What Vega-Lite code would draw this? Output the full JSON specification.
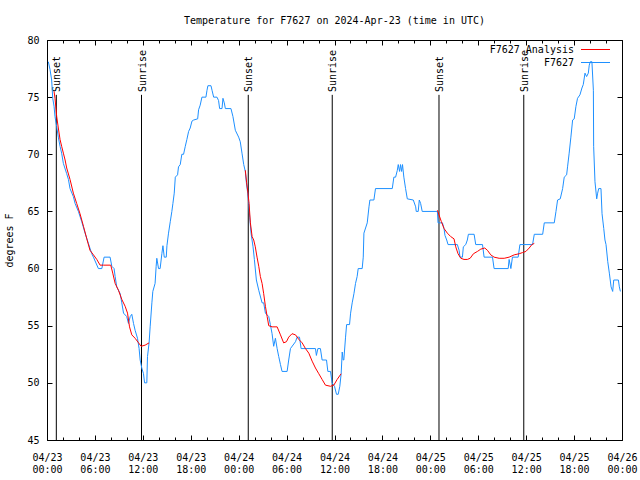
{
  "$schema": "https://vega.github.io/schema/vega-lite/v6.json",
  "autosize": {"type": "none"},
  "width": 575,
  "height": 400,
  "padding": {"left": 47, "top": 40, "right": 18, "bottom": 40},
  "background": "white",
  "title": {"text": "Temperature for F7627 on 2024-Apr-23 (time in UTC)", "anchor": "middle", "baseline": "alphabetic", "offset": 1, "font": "DejaVu Sans Mono", "fontSize": 10, "fontWeight": "normal", "color": "black"},
  "datasets": {
    "events": [
      {"t": "2024-04-23T01:10Z", "label": "Sunset"},
      {"t": "2024-04-23T11:50Z", "label": "Sunrise"},
      {"t": "2024-04-24T01:12Z", "label": "Sunset"},
      {"t": "2024-04-24T11:43Z", "label": "Sunrise"},
      {"t": "2024-04-25T01:05Z", "label": "Sunset"},
      {"t": "2024-04-25T11:42Z", "label": "Sunrise"}
    ],
    "obs": [
      {"t": "2024-04-23T00:10Z", "temp": 78.1},
      {"t": "2024-04-23T00:23Z", "temp": 77.4},
      {"t": "2024-04-23T00:35Z", "temp": 76.5},
      {"t": "2024-04-23T00:43Z", "temp": 74.9},
      {"t": "2024-04-23T00:53Z", "temp": 74.2},
      {"t": "2024-04-23T01:00Z", "temp": 73.3},
      {"t": "2024-04-23T01:13Z", "temp": 72.4},
      {"t": "2024-04-23T01:25Z", "temp": 71.5},
      {"t": "2024-04-23T01:38Z", "temp": 70.7},
      {"t": "2024-04-23T01:50Z", "temp": 70.1},
      {"t": "2024-04-23T02:03Z", "temp": 69.2},
      {"t": "2024-04-23T02:28Z", "temp": 68.3},
      {"t": "2024-04-23T02:41Z", "temp": 67.8},
      {"t": "2024-04-23T02:53Z", "temp": 67.0},
      {"t": "2024-04-23T03:18Z", "temp": 66.3},
      {"t": "2024-04-23T03:31Z", "temp": 65.7},
      {"t": "2024-04-23T03:56Z", "temp": 65.0},
      {"t": "2024-04-23T04:21Z", "temp": 64.1},
      {"t": "2024-04-23T04:46Z", "temp": 63.1},
      {"t": "2024-04-23T05:11Z", "temp": 62.2},
      {"t": "2024-04-23T05:36Z", "temp": 61.3},
      {"t": "2024-04-23T05:49Z", "temp": 61.0},
      {"t": "2024-04-23T06:26Z", "temp": 60.0},
      {"t": "2024-04-23T06:52Z", "temp": 60.0},
      {"t": "2024-04-23T07:09Z", "temp": 61.0},
      {"t": "2024-04-23T07:54Z", "temp": 61.0},
      {"t": "2024-04-23T08:07Z", "temp": 60.2},
      {"t": "2024-04-23T08:24Z", "temp": 60.0},
      {"t": "2024-04-23T08:32Z", "temp": 59.3},
      {"t": "2024-04-23T08:44Z", "temp": 58.4},
      {"t": "2024-04-23T09:10Z", "temp": 57.8},
      {"t": "2024-04-23T09:22Z", "temp": 57.0},
      {"t": "2024-04-23T09:35Z", "temp": 56.1},
      {"t": "2024-04-23T09:59Z", "temp": 55.8},
      {"t": "2024-04-23T10:12Z", "temp": 55.2},
      {"t": "2024-04-23T10:25Z", "temp": 55.8},
      {"t": "2024-04-23T10:37Z", "temp": 56.0},
      {"t": "2024-04-23T10:50Z", "temp": 55.2},
      {"t": "2024-04-23T11:02Z", "temp": 54.6},
      {"t": "2024-04-23T11:20Z", "temp": 53.9},
      {"t": "2024-04-23T11:32Z", "temp": 53.0},
      {"t": "2024-04-23T11:40Z", "temp": 52.0},
      {"t": "2024-04-23T11:52Z", "temp": 51.3},
      {"t": "2024-04-23T12:05Z", "temp": 50.8},
      {"t": "2024-04-23T12:13Z", "temp": 50.0},
      {"t": "2024-04-23T12:30Z", "temp": 50.0},
      {"t": "2024-04-23T12:35Z", "temp": 52.3},
      {"t": "2024-04-23T12:47Z", "temp": 53.5},
      {"t": "2024-04-23T12:55Z", "temp": 54.9},
      {"t": "2024-04-23T13:08Z", "temp": 57.0},
      {"t": "2024-04-23T13:15Z", "temp": 58.0},
      {"t": "2024-04-23T13:32Z", "temp": 58.7},
      {"t": "2024-04-23T13:40Z", "temp": 60.2},
      {"t": "2024-04-23T13:45Z", "temp": 60.9},
      {"t": "2024-04-23T13:58Z", "temp": 60.0},
      {"t": "2024-04-23T14:10Z", "temp": 60.0},
      {"t": "2024-04-23T14:23Z", "temp": 61.3},
      {"t": "2024-04-23T14:31Z", "temp": 62.0},
      {"t": "2024-04-23T14:41Z", "temp": 61.0},
      {"t": "2024-04-23T14:56Z", "temp": 61.0},
      {"t": "2024-04-23T15:01Z", "temp": 62.0},
      {"t": "2024-04-23T15:13Z", "temp": 63.1},
      {"t": "2024-04-23T15:26Z", "temp": 64.1},
      {"t": "2024-04-23T15:38Z", "temp": 65.0},
      {"t": "2024-04-23T15:46Z", "temp": 65.7},
      {"t": "2024-04-23T15:56Z", "temp": 66.6},
      {"t": "2024-04-23T16:04Z", "temp": 68.0},
      {"t": "2024-04-23T16:21Z", "temp": 68.2},
      {"t": "2024-04-23T16:28Z", "temp": 68.9},
      {"t": "2024-04-23T16:41Z", "temp": 69.1},
      {"t": "2024-04-23T16:53Z", "temp": 70.0},
      {"t": "2024-04-23T17:06Z", "temp": 70.0},
      {"t": "2024-04-23T17:19Z", "temp": 70.7},
      {"t": "2024-04-23T17:31Z", "temp": 71.3},
      {"t": "2024-04-23T17:44Z", "temp": 72.0},
      {"t": "2024-04-23T17:56Z", "temp": 72.3},
      {"t": "2024-04-23T18:09Z", "temp": 72.9},
      {"t": "2024-04-23T18:22Z", "temp": 73.0},
      {"t": "2024-04-23T18:52Z", "temp": 73.1},
      {"t": "2024-04-23T18:59Z", "temp": 73.9},
      {"t": "2024-04-23T19:11Z", "temp": 74.3},
      {"t": "2024-04-23T19:24Z", "temp": 75.0},
      {"t": "2024-04-23T19:54Z", "temp": 75.0},
      {"t": "2024-04-23T20:02Z", "temp": 75.6},
      {"t": "2024-04-23T20:09Z", "temp": 76.0},
      {"t": "2024-04-23T20:32Z", "temp": 76.0},
      {"t": "2024-04-23T20:40Z", "temp": 75.6},
      {"t": "2024-04-23T20:52Z", "temp": 75.0},
      {"t": "2024-04-23T21:17Z", "temp": 75.0},
      {"t": "2024-04-23T21:29Z", "temp": 74.7},
      {"t": "2024-04-23T21:37Z", "temp": 74.0},
      {"t": "2024-04-23T21:55Z", "temp": 74.0},
      {"t": "2024-04-23T22:02Z", "temp": 74.9},
      {"t": "2024-04-23T22:12Z", "temp": 74.5},
      {"t": "2024-04-23T22:20Z", "temp": 74.0},
      {"t": "2024-04-23T23:02Z", "temp": 74.0},
      {"t": "2024-04-23T23:17Z", "temp": 73.3},
      {"t": "2024-04-23T23:35Z", "temp": 72.1},
      {"t": "2024-04-24T00:00Z", "temp": 71.5},
      {"t": "2024-04-24T00:12Z", "temp": 71.1},
      {"t": "2024-04-24T00:25Z", "temp": 70.1},
      {"t": "2024-04-24T00:38Z", "temp": 69.1},
      {"t": "2024-04-24T00:50Z", "temp": 68.5},
      {"t": "2024-04-24T00:58Z", "temp": 67.5},
      {"t": "2024-04-24T01:08Z", "temp": 66.6},
      {"t": "2024-04-24T01:16Z", "temp": 65.6},
      {"t": "2024-04-24T01:23Z", "temp": 64.5},
      {"t": "2024-04-24T01:33Z", "temp": 63.1},
      {"t": "2024-04-24T01:48Z", "temp": 61.9},
      {"t": "2024-04-24T01:58Z", "temp": 60.8},
      {"t": "2024-04-24T02:13Z", "temp": 59.0},
      {"t": "2024-04-24T02:31Z", "temp": 58.1},
      {"t": "2024-04-24T02:56Z", "temp": 57.0},
      {"t": "2024-04-24T03:08Z", "temp": 57.0},
      {"t": "2024-04-24T03:21Z", "temp": 56.1},
      {"t": "2024-04-24T03:46Z", "temp": 55.8},
      {"t": "2024-04-24T03:58Z", "temp": 55.1},
      {"t": "2024-04-24T04:11Z", "temp": 54.3},
      {"t": "2024-04-24T04:23Z", "temp": 53.2},
      {"t": "2024-04-24T04:36Z", "temp": 53.9},
      {"t": "2024-04-24T04:49Z", "temp": 53.0},
      {"t": "2024-04-24T05:01Z", "temp": 52.3},
      {"t": "2024-04-24T05:14Z", "temp": 51.6},
      {"t": "2024-04-24T05:26Z", "temp": 51.0},
      {"t": "2024-04-24T06:04Z", "temp": 51.0},
      {"t": "2024-04-24T06:16Z", "temp": 52.0},
      {"t": "2024-04-24T06:29Z", "temp": 53.0},
      {"t": "2024-04-24T07:07Z", "temp": 53.6},
      {"t": "2024-04-24T07:19Z", "temp": 54.0},
      {"t": "2024-04-24T07:37Z", "temp": 54.0},
      {"t": "2024-04-24T07:49Z", "temp": 53.0},
      {"t": "2024-04-24T09:37Z", "temp": 53.0},
      {"t": "2024-04-24T09:44Z", "temp": 52.4},
      {"t": "2024-04-24T09:55Z", "temp": 53.0},
      {"t": "2024-04-24T10:14Z", "temp": 53.0},
      {"t": "2024-04-24T10:27Z", "temp": 52.0},
      {"t": "2024-04-24T11:00Z", "temp": 52.0},
      {"t": "2024-04-24T11:10Z", "temp": 51.0},
      {"t": "2024-04-24T11:30Z", "temp": 51.0},
      {"t": "2024-04-24T11:42Z", "temp": 50.0},
      {"t": "2024-04-24T12:00Z", "temp": 49.7},
      {"t": "2024-04-24T12:15Z", "temp": 49.0},
      {"t": "2024-04-24T12:28Z", "temp": 49.0},
      {"t": "2024-04-24T12:40Z", "temp": 49.7},
      {"t": "2024-04-24T12:50Z", "temp": 50.8},
      {"t": "2024-04-24T12:58Z", "temp": 52.7},
      {"t": "2024-04-24T13:05Z", "temp": 52.0},
      {"t": "2024-04-24T13:10Z", "temp": 52.0},
      {"t": "2024-04-24T13:23Z", "temp": 54.0},
      {"t": "2024-04-24T13:31Z", "temp": 55.1},
      {"t": "2024-04-24T13:53Z", "temp": 55.1},
      {"t": "2024-04-24T14:01Z", "temp": 56.1},
      {"t": "2024-04-24T14:13Z", "temp": 57.0},
      {"t": "2024-04-24T14:26Z", "temp": 57.8},
      {"t": "2024-04-24T14:38Z", "temp": 58.7},
      {"t": "2024-04-24T14:50Z", "temp": 59.3},
      {"t": "2024-04-24T14:58Z", "temp": 60.0},
      {"t": "2024-04-24T15:28Z", "temp": 60.0},
      {"t": "2024-04-24T15:36Z", "temp": 61.0},
      {"t": "2024-04-24T15:41Z", "temp": 63.1},
      {"t": "2024-04-24T16:06Z", "temp": 64.0},
      {"t": "2024-04-24T16:19Z", "temp": 65.4},
      {"t": "2024-04-24T16:26Z", "temp": 66.0},
      {"t": "2024-04-24T16:56Z", "temp": 66.0},
      {"t": "2024-04-24T17:08Z", "temp": 67.0},
      {"t": "2024-04-24T19:14Z", "temp": 67.0},
      {"t": "2024-04-24T19:26Z", "temp": 68.0},
      {"t": "2024-04-24T19:39Z", "temp": 68.0},
      {"t": "2024-04-24T19:52Z", "temp": 68.6},
      {"t": "2024-04-24T19:59Z", "temp": 69.1},
      {"t": "2024-04-24T20:09Z", "temp": 68.5},
      {"t": "2024-04-24T20:16Z", "temp": 69.1},
      {"t": "2024-04-24T20:24Z", "temp": 68.5},
      {"t": "2024-04-24T20:31Z", "temp": 69.1},
      {"t": "2024-04-24T20:41Z", "temp": 68.0},
      {"t": "2024-04-24T20:54Z", "temp": 67.0},
      {"t": "2024-04-24T21:07Z", "temp": 66.1},
      {"t": "2024-04-24T21:52Z", "temp": 66.0},
      {"t": "2024-04-24T22:10Z", "temp": 65.4},
      {"t": "2024-04-24T22:14Z", "temp": 65.0},
      {"t": "2024-04-24T22:29Z", "temp": 65.0},
      {"t": "2024-04-24T22:37Z", "temp": 66.0},
      {"t": "2024-04-24T22:47Z", "temp": 65.7},
      {"t": "2024-04-24T22:59Z", "temp": 65.0},
      {"t": "2024-04-25T00:53Z", "temp": 65.0},
      {"t": "2024-04-25T00:58Z", "temp": 64.0},
      {"t": "2024-04-25T01:31Z", "temp": 64.0},
      {"t": "2024-04-25T01:43Z", "temp": 63.5},
      {"t": "2024-04-25T01:50Z", "temp": 62.9},
      {"t": "2024-04-25T02:03Z", "temp": 62.5},
      {"t": "2024-04-25T02:13Z", "temp": 62.1},
      {"t": "2024-04-25T03:23Z", "temp": 62.1},
      {"t": "2024-04-25T03:36Z", "temp": 61.6},
      {"t": "2024-04-25T03:43Z", "temp": 61.0},
      {"t": "2024-04-25T04:01Z", "temp": 61.0},
      {"t": "2024-04-25T04:08Z", "temp": 61.9},
      {"t": "2024-04-25T04:26Z", "temp": 62.1},
      {"t": "2024-04-25T04:38Z", "temp": 62.5},
      {"t": "2024-04-25T04:46Z", "temp": 63.0},
      {"t": "2024-04-25T05:29Z", "temp": 63.0},
      {"t": "2024-04-25T05:41Z", "temp": 62.1},
      {"t": "2024-04-25T06:32Z", "temp": 62.1},
      {"t": "2024-04-25T06:44Z", "temp": 61.0},
      {"t": "2024-04-25T07:47Z", "temp": 61.0},
      {"t": "2024-04-25T07:59Z", "temp": 60.0},
      {"t": "2024-04-25T09:45Z", "temp": 60.0},
      {"t": "2024-04-25T09:52Z", "temp": 60.8},
      {"t": "2024-04-25T10:05Z", "temp": 60.0},
      {"t": "2024-04-25T10:17Z", "temp": 61.0},
      {"t": "2024-04-25T11:00Z", "temp": 61.0},
      {"t": "2024-04-25T11:13Z", "temp": 62.1},
      {"t": "2024-04-25T12:48Z", "temp": 62.1},
      {"t": "2024-04-25T13:01Z", "temp": 63.0},
      {"t": "2024-04-25T14:04Z", "temp": 63.0},
      {"t": "2024-04-25T14:16Z", "temp": 64.0},
      {"t": "2024-04-25T15:31Z", "temp": 64.0},
      {"t": "2024-04-25T15:44Z", "temp": 65.0},
      {"t": "2024-04-25T15:56Z", "temp": 66.0},
      {"t": "2024-04-25T16:16Z", "temp": 66.1},
      {"t": "2024-04-25T16:34Z", "temp": 67.0},
      {"t": "2024-04-25T16:46Z", "temp": 68.0},
      {"t": "2024-04-25T17:04Z", "temp": 68.2},
      {"t": "2024-04-25T17:11Z", "temp": 68.9},
      {"t": "2024-04-25T17:23Z", "temp": 70.1},
      {"t": "2024-04-25T17:36Z", "temp": 71.5},
      {"t": "2024-04-25T17:49Z", "temp": 73.0},
      {"t": "2024-04-25T18:01Z", "temp": 73.1},
      {"t": "2024-04-25T18:14Z", "temp": 74.2},
      {"t": "2024-04-25T18:26Z", "temp": 74.9},
      {"t": "2024-04-25T18:44Z", "temp": 75.2},
      {"t": "2024-04-25T18:59Z", "temp": 75.8},
      {"t": "2024-04-25T19:09Z", "temp": 76.1},
      {"t": "2024-04-25T19:22Z", "temp": 77.1},
      {"t": "2024-04-25T19:34Z", "temp": 76.8},
      {"t": "2024-04-25T19:47Z", "temp": 77.1},
      {"t": "2024-04-25T19:54Z", "temp": 77.8},
      {"t": "2024-04-25T20:02Z", "temp": 78.1},
      {"t": "2024-04-25T20:14Z", "temp": 78.1},
      {"t": "2024-04-25T20:25Z", "temp": 75.6},
      {"t": "2024-04-25T20:27Z", "temp": 70.7},
      {"t": "2024-04-25T20:37Z", "temp": 67.6},
      {"t": "2024-04-25T20:50Z", "temp": 66.1},
      {"t": "2024-04-25T20:57Z", "temp": 66.6},
      {"t": "2024-04-25T21:05Z", "temp": 67.0},
      {"t": "2024-04-25T21:22Z", "temp": 67.0},
      {"t": "2024-04-25T21:30Z", "temp": 64.8},
      {"t": "2024-04-25T21:43Z", "temp": 63.5},
      {"t": "2024-04-25T21:52Z", "temp": 62.5},
      {"t": "2024-04-25T22:00Z", "temp": 62.1},
      {"t": "2024-04-25T22:13Z", "temp": 60.6},
      {"t": "2024-04-25T22:25Z", "temp": 59.6},
      {"t": "2024-04-25T22:38Z", "temp": 58.4},
      {"t": "2024-04-25T22:50Z", "temp": 58.0},
      {"t": "2024-04-25T22:58Z", "temp": 59.0},
      {"t": "2024-04-25T23:33Z", "temp": 59.0},
      {"t": "2024-04-25T23:40Z", "temp": 58.4},
      {"t": "2024-04-25T23:48Z", "temp": 58.0}
    ],
    "analysis": [
      {"seg": 1, "t": "2024-04-23T00:53Z", "temp": 75.5},
      {"seg": 1, "t": "2024-04-23T01:00Z", "temp": 74.9},
      {"seg": 1, "t": "2024-04-23T01:13Z", "temp": 73.3},
      {"seg": 1, "t": "2024-04-23T01:25Z", "temp": 72.3},
      {"seg": 1, "t": "2024-04-23T01:38Z", "temp": 71.3},
      {"seg": 1, "t": "2024-04-23T01:50Z", "temp": 70.7},
      {"seg": 1, "t": "2024-04-23T02:03Z", "temp": 70.1},
      {"seg": 1, "t": "2024-04-23T02:16Z", "temp": 69.5},
      {"seg": 1, "t": "2024-04-23T02:28Z", "temp": 68.8},
      {"seg": 1, "t": "2024-04-23T02:53Z", "temp": 67.8},
      {"seg": 1, "t": "2024-04-23T03:18Z", "temp": 66.6},
      {"seg": 1, "t": "2024-04-23T03:43Z", "temp": 65.7},
      {"seg": 1, "t": "2024-04-23T04:08Z", "temp": 64.8},
      {"seg": 1, "t": "2024-04-23T04:34Z", "temp": 63.7},
      {"seg": 1, "t": "2024-04-23T04:59Z", "temp": 62.6},
      {"seg": 1, "t": "2024-04-23T05:23Z", "temp": 61.6},
      {"seg": 1, "t": "2024-04-23T05:49Z", "temp": 61.2},
      {"seg": 1, "t": "2024-04-23T06:14Z", "temp": 60.8},
      {"seg": 1, "t": "2024-04-23T06:39Z", "temp": 60.3},
      {"seg": 1, "t": "2024-04-23T07:04Z", "temp": 60.3},
      {"seg": 1, "t": "2024-04-23T07:59Z", "temp": 60.3},
      {"seg": 1, "t": "2024-04-23T08:14Z", "temp": 59.6},
      {"seg": 1, "t": "2024-04-23T08:32Z", "temp": 58.7},
      {"seg": 1, "t": "2024-04-23T08:57Z", "temp": 58.1},
      {"seg": 1, "t": "2024-04-23T09:22Z", "temp": 57.3},
      {"seg": 1, "t": "2024-04-23T09:47Z", "temp": 56.7},
      {"seg": 1, "t": "2024-04-23T10:05Z", "temp": 56.1},
      {"seg": 1, "t": "2024-04-23T10:20Z", "temp": 54.9},
      {"seg": 1, "t": "2024-04-23T10:37Z", "temp": 54.2},
      {"seg": 1, "t": "2024-04-23T11:02Z", "temp": 53.9},
      {"seg": 1, "t": "2024-04-23T11:28Z", "temp": 53.5},
      {"seg": 1, "t": "2024-04-23T11:47Z", "temp": 53.2},
      {"seg": 1, "t": "2024-04-23T12:17Z", "temp": 53.3},
      {"seg": 1, "t": "2024-04-23T12:47Z", "temp": 53.5},
      {"seg": 2, "t": "2024-04-24T00:50Z", "temp": 68.6},
      {"seg": 2, "t": "2024-04-24T01:00Z", "temp": 67.5},
      {"seg": 2, "t": "2024-04-24T01:10Z", "temp": 66.6},
      {"seg": 2, "t": "2024-04-24T01:18Z", "temp": 65.7},
      {"seg": 2, "t": "2024-04-24T01:28Z", "temp": 64.0},
      {"seg": 2, "t": "2024-04-24T01:41Z", "temp": 62.8},
      {"seg": 2, "t": "2024-04-24T01:53Z", "temp": 62.5},
      {"seg": 2, "t": "2024-04-24T02:05Z", "temp": 61.9},
      {"seg": 2, "t": "2024-04-24T02:18Z", "temp": 61.0},
      {"seg": 2, "t": "2024-04-24T02:31Z", "temp": 60.2},
      {"seg": 2, "t": "2024-04-24T02:43Z", "temp": 59.3},
      {"seg": 2, "t": "2024-04-24T02:56Z", "temp": 58.7},
      {"seg": 2, "t": "2024-04-24T03:08Z", "temp": 57.8},
      {"seg": 2, "t": "2024-04-24T03:21Z", "temp": 56.7},
      {"seg": 2, "t": "2024-04-24T03:34Z", "temp": 55.8},
      {"seg": 2, "t": "2024-04-24T03:46Z", "temp": 55.0},
      {"seg": 2, "t": "2024-04-24T04:11Z", "temp": 54.9},
      {"seg": 2, "t": "2024-04-24T04:49Z", "temp": 54.9},
      {"seg": 2, "t": "2024-04-24T05:14Z", "temp": 54.2},
      {"seg": 2, "t": "2024-04-24T05:38Z", "temp": 53.5},
      {"seg": 2, "t": "2024-04-24T05:59Z", "temp": 53.6},
      {"seg": 2, "t": "2024-04-24T06:16Z", "temp": 54.0},
      {"seg": 2, "t": "2024-04-24T06:41Z", "temp": 54.3},
      {"seg": 2, "t": "2024-04-24T07:07Z", "temp": 54.2},
      {"seg": 2, "t": "2024-04-24T07:32Z", "temp": 53.8},
      {"seg": 2, "t": "2024-04-24T07:57Z", "temp": 53.5},
      {"seg": 2, "t": "2024-04-24T08:22Z", "temp": 53.0},
      {"seg": 2, "t": "2024-04-24T08:47Z", "temp": 52.6},
      {"seg": 2, "t": "2024-04-24T09:12Z", "temp": 51.9},
      {"seg": 2, "t": "2024-04-24T09:37Z", "temp": 51.3},
      {"seg": 2, "t": "2024-04-24T10:02Z", "temp": 50.8},
      {"seg": 2, "t": "2024-04-24T10:27Z", "temp": 50.3},
      {"seg": 2, "t": "2024-04-24T10:52Z", "temp": 49.8},
      {"seg": 2, "t": "2024-04-24T11:30Z", "temp": 49.7},
      {"seg": 2, "t": "2024-04-24T11:55Z", "temp": 49.8},
      {"seg": 2, "t": "2024-04-24T12:20Z", "temp": 50.3},
      {"seg": 2, "t": "2024-04-24T12:50Z", "temp": 50.8},
      {"seg": 3, "t": "2024-04-25T00:53Z", "temp": 65.1},
      {"seg": 3, "t": "2024-04-25T01:05Z", "temp": 64.7},
      {"seg": 3, "t": "2024-04-25T01:23Z", "temp": 64.1},
      {"seg": 3, "t": "2024-04-25T01:43Z", "temp": 63.5},
      {"seg": 3, "t": "2024-04-25T02:08Z", "temp": 63.1},
      {"seg": 3, "t": "2024-04-25T02:33Z", "temp": 62.8},
      {"seg": 3, "t": "2024-04-25T02:58Z", "temp": 62.6},
      {"seg": 3, "t": "2024-04-25T03:11Z", "temp": 61.9},
      {"seg": 3, "t": "2024-04-25T03:28Z", "temp": 61.3},
      {"seg": 3, "t": "2024-04-25T03:49Z", "temp": 60.9},
      {"seg": 3, "t": "2024-04-25T04:13Z", "temp": 60.8},
      {"seg": 3, "t": "2024-04-25T04:38Z", "temp": 60.8},
      {"seg": 3, "t": "2024-04-25T04:59Z", "temp": 60.9},
      {"seg": 3, "t": "2024-04-25T05:24Z", "temp": 61.3},
      {"seg": 3, "t": "2024-04-25T05:54Z", "temp": 61.5},
      {"seg": 3, "t": "2024-04-25T06:19Z", "temp": 61.7},
      {"seg": 3, "t": "2024-04-25T06:49Z", "temp": 61.8},
      {"seg": 3, "t": "2024-04-25T07:09Z", "temp": 61.6},
      {"seg": 3, "t": "2024-04-25T07:34Z", "temp": 61.2},
      {"seg": 3, "t": "2024-04-25T07:59Z", "temp": 61.0},
      {"seg": 3, "t": "2024-04-25T08:37Z", "temp": 60.9},
      {"seg": 3, "t": "2024-04-25T09:15Z", "temp": 60.9},
      {"seg": 3, "t": "2024-04-25T09:52Z", "temp": 61.0},
      {"seg": 3, "t": "2024-04-25T10:30Z", "temp": 61.2},
      {"seg": 3, "t": "2024-04-25T11:08Z", "temp": 61.3},
      {"seg": 3, "t": "2024-04-25T11:33Z", "temp": 61.4},
      {"seg": 3, "t": "2024-04-25T11:58Z", "temp": 61.5},
      {"seg": 3, "t": "2024-04-25T12:23Z", "temp": 61.8},
      {"seg": 3, "t": "2024-04-25T12:43Z", "temp": 62.1},
      {"seg": 3, "t": "2024-04-25T13:01Z", "temp": 62.2}
    ]
  },
  "resolve": {"axis": {"x": "independent", "y": "independent"}},
  "layer": [
    {
      "data": {"name": "events"},
      "mark": {"type": "rule", "color": "black", "strokeWidth": 1},
      "encoding": {
        "x": {"field": "t", "type": "temporal",
              "scale": {"type": "utc", "domain": [1713830400000, 1714089600000], "nice": false},
              "axis": {"orient": "bottom", "title": null, "domain": false, "grid": false, "tickSize": -5, "labelPadding": 17, "labelBaseline": "top", "labelLineHeight": 12, "values": [1713830400000, 1713852000000, 1713873600000, 1713895200000, 1713916800000, 1713938400000, 1713960000000, 1713981600000, 1714003200000, 1714024800000, 1714046400000, 1714068000000, 1714089600000], "labelExpr": "[utcFormat(datum.value, '%m/%d'), utcFormat(datum.value, '%H:%M')]", "labelOverlap": false, "labelFlush": false}},
        "y": {"datum": 45, "type": "quantitative",
              "scale": {"domain": [45, 80], "nice": false, "zero": false},
              "axis": {"orient": "left", "title": "degrees F", "domain": false, "grid": false, "tickSize": -5, "labelPadding": 13, "values": [45, 50, 55, 60, 65, 70, 75, 80], "titlePadding": 12}},
        "y2": {"datum": 75.2}
      }
    },
    {
      "data": {"name": "events"},
      "mark": {"type": "text", "angle": 270, "align": "left", "baseline": "middle", "dy": 1, "font": "DejaVu Sans Mono", "fontSize": 10, "color": "black"},
      "encoding": {
        "x": {"field": "t", "type": "temporal",
              "axis": {"orient": "top", "title": null, "labels": false, "domain": false, "grid": false, "tickSize": -5, "values": [1713830400000, 1713852000000, 1713873600000, 1713895200000, 1713916800000, 1713938400000, 1713960000000, 1713981600000, 1714003200000, 1714024800000, 1714046400000, 1714068000000, 1714089600000]}},
        "y": {"datum": 75.45, "type": "quantitative",
              "axis": {"orient": "right", "title": null, "labels": false, "domain": false, "grid": false, "tickSize": -5, "values": [45, 50, 55, 60, 65, 70, 75, 80]}},
        "text": {"field": "label"}
      }
    },
    {
      "data": {"name": "obs"},
      "mark": {"type": "line", "strokeWidth": 1},
      "encoding": {
        "x": {"field": "t", "type": "temporal",
              "axis": {"orient": "bottom", "title": null, "labels": false, "domain": false, "grid": false, "tickSize": -3, "values": [1713830400000, 1713837600000, 1713844800000, 1713852000000, 1713859200000, 1713866400000, 1713873600000, 1713880800000, 1713888000000, 1713895200000, 1713902400000, 1713909600000, 1713916800000, 1713924000000, 1713931200000, 1713938400000, 1713945600000, 1713952800000, 1713960000000, 1713967200000, 1713974400000, 1713981600000, 1713988800000, 1713996000000, 1714003200000, 1714010400000, 1714017600000, 1714024800000, 1714032000000, 1714039200000, 1714046400000, 1714053600000, 1714060800000, 1714068000000, 1714075200000, 1714082400000, 1714089600000]}},
        "y": {"field": "temp", "type": "quantitative", "axis": null},
        "color": {"datum": "F7627", "type": "nominal",
                  "scale": {"domain": ["F7627 Analysis", "F7627"], "range": ["#ff0000", "#1e90ff"]},
                  "legend": {"orient": "none", "legendX": 543, "legendY": 4, "title": null, "symbolType": "M-2.9,0H2.9", "symbolSize": 100, "symbolStrokeWidth": 1, "labelAlign": "right", "labelOffset": -27, "labelFont": "DejaVu Sans Mono", "labelFontSize": 10, "labelColor": "black", "rowPadding": 2, "padding": 0}}
      }
    },
    {
      "data": {"name": "analysis"},
      "mark": {"type": "line", "strokeWidth": 1},
      "encoding": {
        "x": {"field": "t", "type": "temporal",
              "axis": {"orient": "top", "title": null, "labels": false, "domain": false, "grid": false, "tickSize": -3, "values": [1713830400000, 1713837600000, 1713844800000, 1713852000000, 1713859200000, 1713866400000, 1713873600000, 1713880800000, 1713888000000, 1713895200000, 1713902400000, 1713909600000, 1713916800000, 1713924000000, 1713931200000, 1713938400000, 1713945600000, 1713952800000, 1713960000000, 1713967200000, 1713974400000, 1713981600000, 1713988800000, 1713996000000, 1714003200000, 1714010400000, 1714017600000, 1714024800000, 1714032000000, 1714039200000, 1714046400000, 1714053600000, 1714060800000, 1714068000000, 1714075200000, 1714082400000, 1714089600000]}},
        "y": {"field": "temp", "type": "quantitative", "axis": null},
        "detail": {"field": "seg", "type": "nominal"},
        "color": {"datum": "F7627 Analysis", "type": "nominal"}
      }
    }
  ],
  "config": {
    "font": "DejaVu Sans Mono",
    "view": {"stroke": "black", "strokeWidth": 1},
    "axis": {"labelFont": "DejaVu Sans Mono", "labelFontSize": 10, "labelColor": "black", "titleFont": "DejaVu Sans Mono", "titleFontSize": 10, "titleFontWeight": "normal", "titleColor": "black", "tickColor": "black", "tickWidth": 1, "domainColor": "black"}
  }
}
